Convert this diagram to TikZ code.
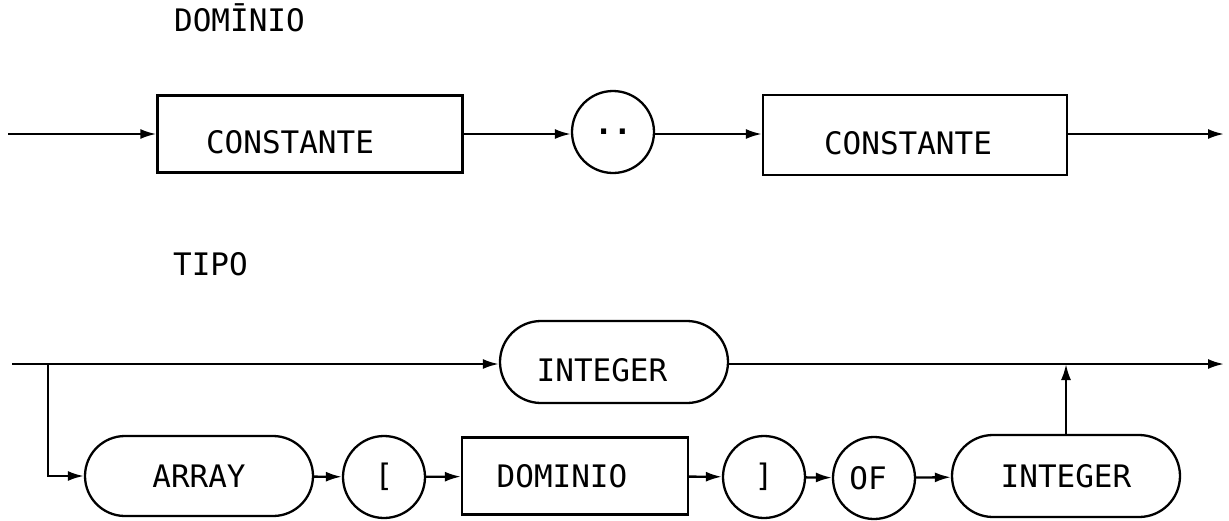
\documentclass[tikz,border=0pt]{standalone}
\usepackage{fontspec}
\newfontfamily\tw{DejaVu Sans Mono}
\usetikzlibrary{arrows.meta,shapes.misc}
% lower a label inside its frame without changing the frame's centring
\newcommand{\lowtext}[1]{\raisebox{-8pt}[\height][\depth]{#1}}
\tikzset{
  every node/.style={font=\tw\fontsize{31}{36}\selectfont, line width=2.3pt, inner sep=0pt},
  wire/.style={line width=2.3pt},
  arr/.style={wire, -{Latex[length=16pt,width=10pt]}},
  boxnode/.style={draw, rectangle},
  termnode/.style={draw, rounded rectangle, minimum width=228pt, minimum height=82pt},
  circnode/.style={draw, circle, minimum size=82pt},
  title/.style={anchor=base west}
}
\begin{document}
\begin{tikzpicture}[x=1pt,y=-1pt]
\useasboundingbox (0,0) rectangle (1229,520);

% ---- DOMINIO ----
\node[title] (tdom) at (173,31) {DOMĪNIO};
\coordinate (d0) at (8,134);
\coordinate (d9) at (1224,134);
\node[boxnode, minimum width=305pt, minimum height=77pt] (c1) at (310,134) {\lowtext{CONSTANTE}\kern40pt};
\node[circnode] (dots) at (613,132) {\textbf{..}};
\node[boxnode, minimum width=304pt, minimum height=80pt] (c2) at (915,135) {\lowtext{CONSTANTE}\kern14pt};
\draw[arr] (d0) -- (c1.west |- d0);
\draw[arr] (c1.east |- d0) -- (dots.west |- d0);
\draw[arr] (dots.east |- d0) -- (c2.west |- d0);
\draw[arr] (c2.east |- d0) -- (d9);

% ---- TIPO ----
\node[title] (ttipo) at (172,275) {TIPO};
\coordinate (t0) at (12,364);
\coordinate (tb) at (48,364);
\coordinate (t9) at (1224,364);
\node[termnode] (int1) at (614,362) {\lowtext{INTEGER}\kern24pt};
\node[termnode, minimum height=80pt] (array) at (199,476) {ARRAY};
\node[circnode] (lb) at (384,477) {[};
\node[boxnode, minimum width=226pt, minimum height=77pt] (dom) at (575,476) {DOMINIO\kern26pt};
\node[circnode] (rb) at (764,477) {]};
\node[circnode] (of) at (874,478) {OF\kern12pt};
\node[termnode] (int2) at (1066,476) {INTEGER};

\draw[arr] (t0) -- (int1.west |- t0);
\draw[arr] (int1.east |- t0) -- (t9);
\draw[arr] (tb) |- (array.west);
\draw[arr] (array) -- (lb);
\draw[arr] (lb) -- (dom);
\draw[arr] (dom) -- (rb);
\draw[arr] (rb) -- (of);
\draw[arr] (of) -- (int2);
\draw[arr] (int2.north) -- (int2.north |- t0);
\end{tikzpicture}
\end{document}
